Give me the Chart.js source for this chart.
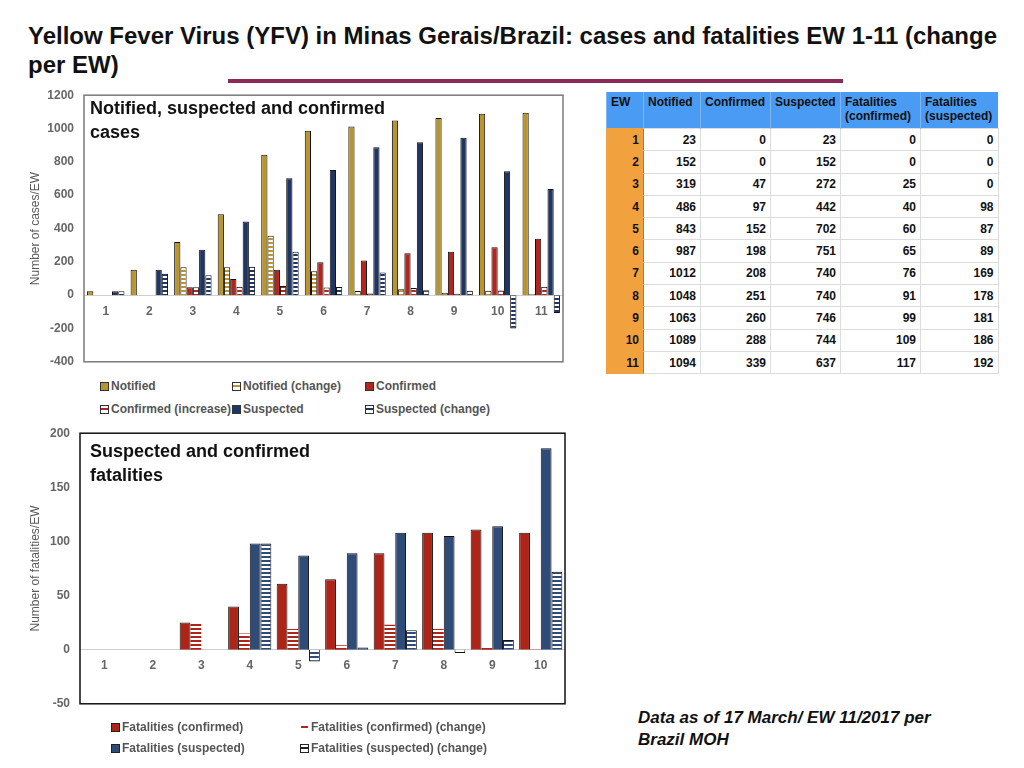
<!DOCTYPE html>
<html lang="en">
<head>
    <meta charset="UTF-8">
    <title>Yellow Fever Virus (YFV) in Minas Gerais/Brazil</title>
    <script src="https://cdn.jsdelivr.net/npm/chart.js"></script>
    <style>
        body {
            margin: 0;
            width: 1024px;
            height: 768px;
            position: relative;
            background: #fff;
            font-family: "Liberation Sans", Arial, sans-serif;
            overflow: hidden;
        }
        .title {
            position: absolute;
            left: 28px;
            top: 22px;
            font-family: "Liberation Sans Narrow", "Arial Narrow", "Liberation Sans", sans-serif;
            font-weight: bold;
            font-size: 23px;
            line-height: 29px;
            color: #111;
        }
        .title span {
            display: block;
            white-space: nowrap;
            transform-origin: left top;
        }
        .rule {
            position: absolute;
            left: 228px;
            top: 79px;
            width: 615px;
            height: 4px;
            background: #8b2a56;
        }
        .chart-box {
            position: absolute;
        }
        .inner-title {
            position: absolute;
            font-weight: bold;
            font-size: 18px;
            line-height: 24px;
            color: #111;
        }
        .legend {
            position: absolute;
            font-size: 12px;
            font-weight: bold;
            color: #555;
        }
        .legend div {
            position: absolute;
            white-space: nowrap;
        }
        .sw {
            display: inline-block;
            width: 7px;
            height: 7px;
            border: 1px solid #222;
            margin-right: 2px;
            vertical-align: -1px;
        }
        table {
            position: absolute;
            left: 606px;
            top: 92px;
            border-collapse: collapse;
            font-size: 12px;
            font-weight: bold;
            color: #111;
        }
        th {
            background: #4a9bf3;
            text-align: left;
            vertical-align: top;
            font-weight: bold;
            padding: 3px 4px;
            height: 30px;
            border-left: 1px solid #7fb6f5;
            line-height: 14px;
        }
        td {
            text-align: right;
            padding: 0 4px;
            height: 21.3px;
            border: 1px solid #dcdcdc;
        }
        td.ew {
            background: #f2a13f;
            border-color: #f2a13f;
            border-right: 1px solid #b57a30;
        }
        .note {
            position: absolute;
            left: 638px;
            top: 707px;
            font-weight: bold;
            font-style: italic;
            font-size: 17px;
            line-height: 22px;
            color: #111;
        }
    </style>
</head>
<body>
    <div class="title" id="title"><span>Yellow Fever Virus (YFV) in Minas Gerais/Brazil: cases and fatalities EW 1-11 (change</span><span>per EW)</span></div>
    <div class="rule"></div>

    <div class="chart-box" style="left:28px; top:78px; width:540px; height:301px;">
        <canvas id="casesChart"></canvas>
    </div>
    <div class="inner-title" style="left:90px; top:96px;">Notified, suspected and confirmed<br>cases</div>
    <div class="legend" id="casesLegend" style="left:100px; top:379px;"></div>

    <div class="chart-box" style="left:28px; top:416px; width:542px; height:305px;">
        <canvas id="deathsChart"></canvas>
    </div>
    <div class="inner-title" style="left:90px; top:439px;">Suspected and confirmed<br>fatalities</div>
    <div class="legend" id="deathsLegend" style="left:111px; top:720px;"></div>

    <table id="dataTable"></table>

    <div class="note">Data as of 17 March/ EW 11/2017 per<br>Brazil MOH</div>

    <script>
        // cases chart
        const weeks = ['1', '2', '3', '4', '5', '6', '7', '8', '9', '10', '11'];
        const notified = [23, 152, 319, 486, 843, 987, 1012, 1048, 1063, 1089, 1094];
        const notifiedChange = [null, null, 167, 167, 357, 144, 25, 36, 15, 26, 5];
        const confirmed = [0, 0, 47, 97, 152, 198, 208, 251, 260, 288, 339];
        const confirmedIncrease = [0, 0, 47, 50, 55, 46, 10, 43, 9, 28, 51];
        const suspected = [23, 152, 272, 442, 702, 751, 887, 917, 944, 744, 637];
        const suspectedChange = [23, 129, 120, 170, 260, 49, 136, 30, 27, -200, -107];

        // fatalities chart
        const deathWeeks = ['1', '2', '3', '4', '5', '6', '7', '8', '9', '10'];
        const fatConfirmed = [0, 0, 25, 40, 61, 65, 89, 108, 111, 108];
        const fatConfirmedChange = [0, 0, 25, 15, 19, 4, 23, 19, 2, -2];
        const fatSuspected = [0, 0, 0, 98, 87, 89, 108, 105, 114, 186];
        const fatSuspectedChange = [0, 0, 0, 98, -11, 2, 18, -3, 9, 72];

        // table
        const tableHeader = ['EW', 'Notified', 'Confirmed', 'Suspected', 'Fatalities<br>(confirmed)', 'Fatalities<br>(suspected)'];
        const tableNotified = [23, 152, 319, 486, 843, 987, 1012, 1048, 1063, 1089, 1094];
        const tableConfirmed = [0, 0, 47, 97, 152, 198, 208, 251, 260, 288, 339];
        const tableSuspected = [23, 152, 272, 442, 702, 751, 740, 740, 746, 744, 637];
        const tableFatConfirmed = [0, 0, 25, 40, 60, 65, 76, 91, 99, 109, 117];
        const tableFatSuspected = [0, 0, 0, 98, 87, 89, 169, 178, 181, 186, 192];

        const GOLD = '#b8952e';
        const RED = '#b3261e';
        const NAVY = '#1f3562';
        const RED2 = '#ad2519';
        const BLUE2 = '#2e4c77';

        function stripes(color) {
            const c = document.createElement('canvas');
            c.width = 4;
            c.height = 4;
            const x = c.getContext('2d');
            x.fillStyle = '#fff';
            x.fillRect(0, 0, 4, 4);
            x.fillStyle = color;
            x.fillRect(0, 0, 4, 2);
            return x.createPattern(c, 'repeat');
        }

        const frame = {
            id: 'frame',
            afterDraw(chart, args, opts) {
                const a = chart.chartArea;
                const ctx = chart.ctx;
                ctx.save();
                ctx.strokeStyle = opts.color;
                ctx.lineWidth = 1.5;
                ctx.strokeRect(a.left, a.top, a.right - a.left, a.bottom - a.top);
                ctx.restore();
            }
        };

        const tickFont = { family: '"Liberation Sans", Arial, sans-serif', size: 12, weight: 'bold' };

        function baseOptions(yMin, yMax, step, yWidth, yTitle, frameColor, catPct) {
            return {
                responsive: true,
                maintainAspectRatio: false,
                animation: false,
                layout: { padding: { top: 10, right: 5, bottom: 10, left: 0 } },
                datasets: { bar: { categoryPercentage: catPct, barPercentage: 1.0 } },
                plugins: {
                    legend: { display: false },
                    tooltip: { enabled: false },
                    frame: { color: frameColor }
                },
                scales: {
                    x: {
                        position: { y: 0 },
                        grid: { display: false, drawTicks: false },
                        border: { display: true, color: '#cfcfcf', width: 1 },
                        ticks: { color: '#666', font: tickFont, padding: 9, maxRotation: 0 }
                    },
                    y: {
                        min: yMin,
                        max: yMax,
                        grid: { display: false, drawTicks: false },
                        border: { display: false },
                        ticks: { stepSize: step, color: '#666', font: tickFont, padding: 10, callback: v => String(v) },
                        title: {
                            display: true,
                            text: yTitle,
                            color: '#5a5a5a',
                            font: { family: '"Liberation Sans", Arial, sans-serif', size: 12 },
                            padding: { top: 0, bottom: 0 }
                        },
                        afterFit(scale) { scale.width = yWidth; }
                    }
                }
            };
        }

        new Chart(document.getElementById('casesChart'), {
            type: 'bar',
            data: {
                labels: weeks,
                datasets: [
                    { label: 'Notified', data: notified, backgroundColor: GOLD },
                    { label: 'Notified (change)', data: notifiedChange, backgroundColor: stripes(GOLD) },
                    { label: 'Confirmed', data: confirmed, backgroundColor: RED },
                    { label: 'Confirmed (increase)', data: confirmedIncrease, backgroundColor: stripes(RED) },
                    { label: 'Suspected', data: suspected, backgroundColor: NAVY },
                    { label: 'Suspected (change)', data: suspectedChange, backgroundColor: stripes(NAVY) }
                ].map(d => Object.assign(d, { borderColor: '#111', borderWidth: 1 }))
            },
            options: baseOptions(-400, 1200, 200, 56, 'Number of cases/EW', '#7a7a7a', 0.86),
            plugins: [frame]
        });

        new Chart(document.getElementById('deathsChart'), {
            type: 'bar',
            data: {
                labels: deathWeeks,
                datasets: [
                    { label: 'Fatalities (confirmed)', data: fatConfirmed, backgroundColor: RED2, borderColor: '#111', borderWidth: 1 },
                    { label: 'Fatalities (confirmed) (change)', data: fatConfirmedChange, backgroundColor: stripes(RED2), borderWidth: 0 },
                    { label: 'Fatalities (suspected)', data: fatSuspected, backgroundColor: BLUE2, borderColor: '#111', borderWidth: 1 },
                    { label: 'Fatalities (suspected) (change)', data: fatSuspectedChange, backgroundColor: stripes(BLUE2), borderColor: '#111', borderWidth: 1 }
                ]
            },
            options: baseOptions(-50, 200, 50, 52, 'Number of fatalities/EW', '#111', 0.89),
            plugins: [frame]
        });

        // html legends
        function swatch(color, striped, border) {
            const bg = striped
                ? `linear-gradient(to bottom, #fff 0 2px, ${color} 2px 4px, #fff 4px 7px)`
                : color;
            return `<span class="sw" style="background:${bg}; border-color:${border}"></span>`;
        }
        document.getElementById('casesLegend').innerHTML = `
            <div style="left:0; top:0">${swatch(GOLD, false, '#333')}Notified</div>
            <div style="left:132px; top:0">${swatch(GOLD, true, '#333')}Notified (change)</div>
            <div style="left:265px; top:0">${swatch(RED, false, '#333')}Confirmed</div>
            <div style="left:0; top:23px">${swatch(RED, true, '#333')}Confirmed (increase)</div>
            <div style="left:132px; top:23px">${swatch(NAVY, false, '#333')}Suspected</div>
            <div style="left:265px; top:23px">${swatch(NAVY, true, '#333')}Suspected (change)</div>`;
        document.getElementById('deathsLegend').innerHTML = `
            <div style="left:0; top:0">${swatch(RED2, false, '#222')}Fatalities (confirmed)</div>
            <div style="left:189px; top:0">${swatch(RED2, true, '#fff')}Fatalities (confirmed) (change)</div>
            <div style="left:0; top:21px">${swatch(BLUE2, false, '#222')}Fatalities (suspected)</div>
            <div style="left:189px; top:21px">${swatch('#222', true, '#222')}Fatalities (suspected) (change)</div>`;

        // data table
        const colWidths = [37, 57, 70, 70, 80, 78];
        let html = '<tr>' + tableHeader.map((h, i) => `<th style="width:${colWidths[i] - 9}px">${h}</th>`).join('') + '</tr>';
        weeks.forEach((w, i) => {
            html += `<tr><td class="ew">${w}</td><td>${tableNotified[i]}</td><td>${tableConfirmed[i]}</td>` +
                `<td>${tableSuspected[i]}</td><td>${tableFatConfirmed[i]}</td><td>${tableFatSuspected[i]}</td></tr>`;
        });
        document.getElementById('dataTable').innerHTML = html;

        // squeeze the headline to the width it has on the slide
        const line1 = document.querySelector('#title span');
        const w = line1.getBoundingClientRect().width;
        const k = 969 / w;
        document.querySelectorAll('#title span').forEach(s => { s.style.transform = `scaleX(${k})`; });
    </script>
</body>
</html>
